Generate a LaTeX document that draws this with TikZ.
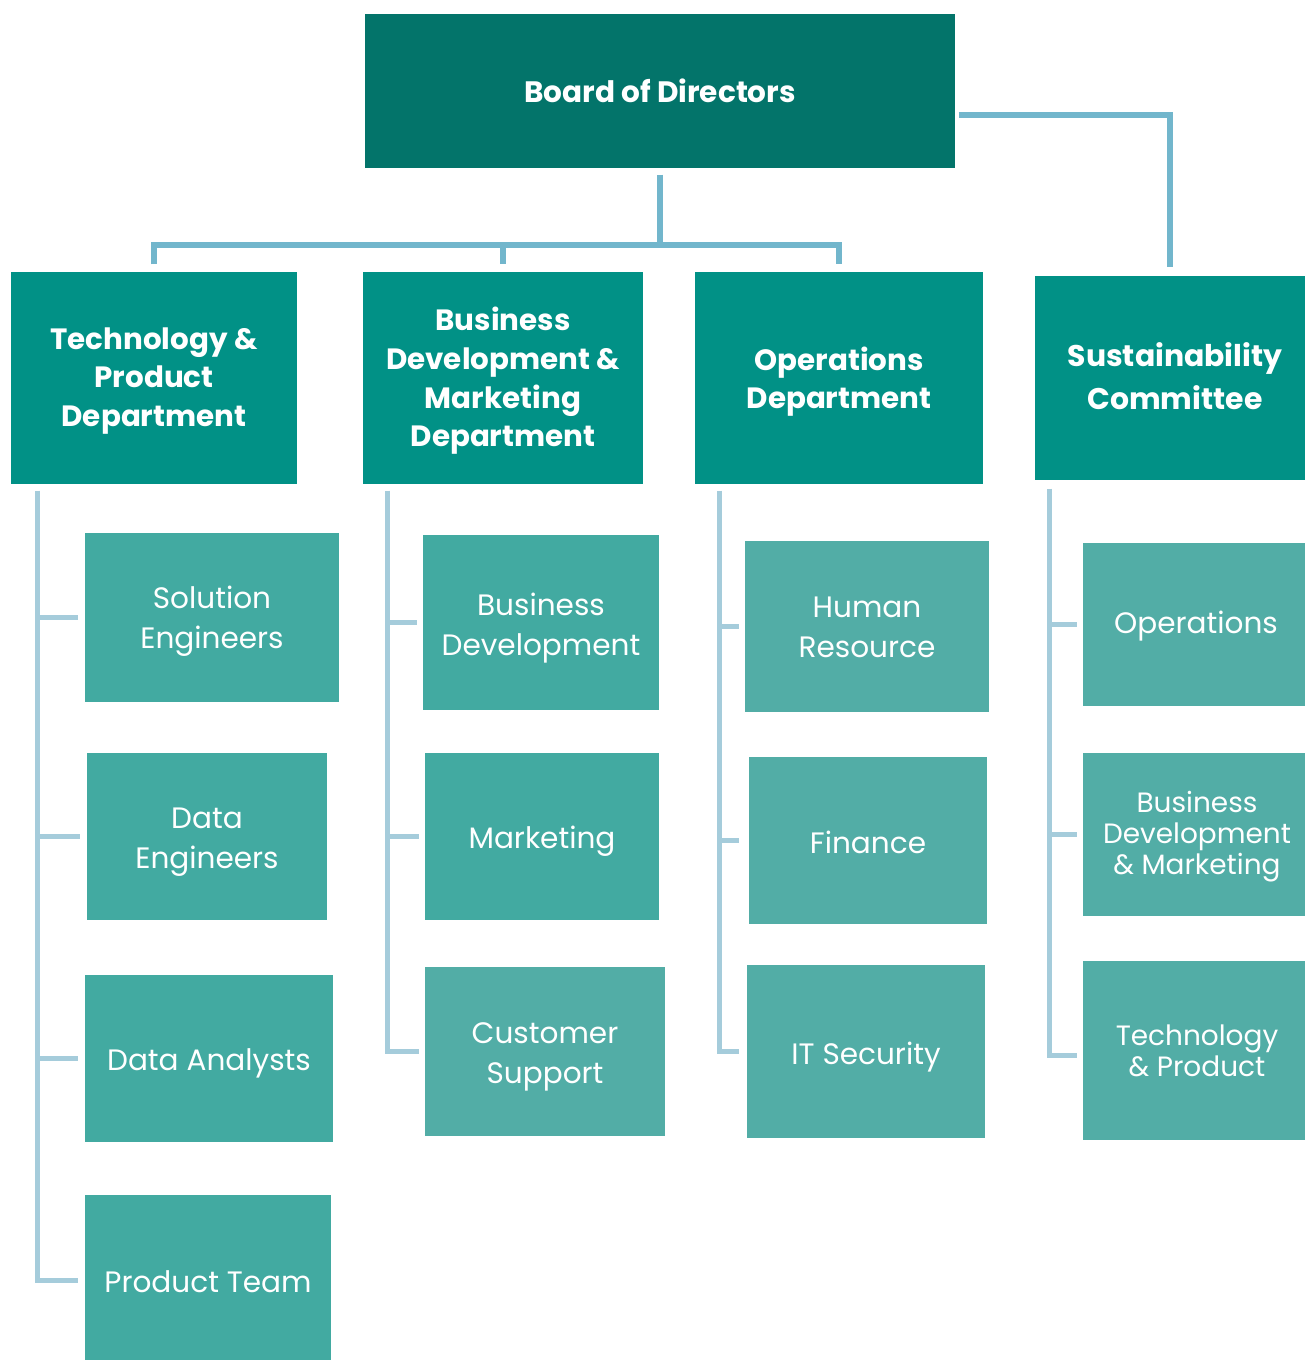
\documentclass[tikz,border=0pt]{standalone}
\usepackage{fontspec}
\setmainfont{Poppins}
\definecolor{boardc}{HTML}{03746A}
\definecolor{deptc}{HTML}{019186}
\definecolor{leafa}{HTML}{42AAA1}
\definecolor{leafb}{HTML}{52ADA6}
\definecolor{topln}{HTML}{72B6CC}
\definecolor{spln}{HTML}{A5CCDB}
% name, x1, y1, x2, y2, style, text shift (px, y down), text
\newcommand\obox[8]{\node[#6box, minimum width={(#4-#2)*0.01cm}, minimum height={(#5-#3)*0.01cm},
  label={[#6txt, shift={#7}]center:{#8}}] (#1) at ({(#2+#4)/2},{(#3+#5)/2}) {};}
\begin{document}
\begin{tikzpicture}[x=0.01cm,y=-0.01cm,
  basebox/.style={rectangle, inner sep=0pt},
  basetxt/.style={inner sep=0pt, align=center, text=white},
  boardbox/.style={basebox, fill=boardc},
  boardtxt/.style={basetxt, font=\bfseries\fontsize{8.4}{10}\selectfont},
  deptbox/.style={basebox, fill=deptc},
  depttxt/.style={basetxt, font=\bfseries\fontsize{8.35}{11}\selectfont},
  sustbox/.style={basebox, fill=deptc},
  susttxt/.style={basetxt, font=\bfseries\fontsize{8.5}{12.4}\selectfont},
  leafabox/.style={basebox, fill=leafa},
  leafatxt/.style={basetxt, font=\fontsize{8.4}{11.4}\selectfont},
  leafbbox/.style={basebox, fill=leafb},
  leafbtxt/.style={basetxt, font=\fontsize{8.4}{11.4}\selectfont},
  leafcbox/.style={basebox, fill=leafb},
  leafctxt/.style={basetxt, font=\fontsize{7.95}{8.8}\selectfont},
  topconn/.style={draw=topln, line width=1.5pt},
  spconn/.style={draw=spln, line width=1.5pt}]
\useasboundingbox (0,0) rectangle (1305,1361);
% top level
\obox{board}{365}{14}{955}{168}{board}{(0,0)}{Board of Directors}
\obox{tech}{11}{272}{297}{484}{dept}{(0,3)}{Technology \&\\Product\\Department}
\obox{bdm}{363}{272}{643}{484}{dept}{(0,3)}{Business\\Development \&\\Marketing\\Department}
\obox{ops}{695}{272}{983}{484}{dept}{(0,3.5)}{Operations\\Department}
\obox{sust}{1035}{276}{1305}{480}{sust}{(5,-2)}{Sustainability\\Committee}
% column 1
\obox{se}{85}{533}{339}{702}{leafa}{(0,4)}{Solution\\Engineers}
\obox{de}{87}{753}{327}{920}{leafa}{(0,6)}{Data\\Engineers}
\obox{da}{85}{975}{333}{1142}{leafa}{(0,5)}{Data Analysts}
\obox{pt}{85}{1195}{331}{1360}{leafa}{(0,4)}{Product Team}
% column 2
\obox{bd}{423}{535}{659}{710}{leafa}{(0,5.5)}{Business\\Development}
\obox{mk}{425}{753}{659}{920}{leafa}{(0,5)}{Marketing}
\obox{cs}{425}{967}{665}{1136}{leafb}{(0,5)}{Customer\\Support}
% column 3
\obox{hr}{745}{541}{989}{712}{leafb}{(0,0.5)}{Human\\Resource}
\obox{fi}{749}{757}{987}{924}{leafb}{(0,2)}{Finance}
\obox{it}{747}{965}{985}{1138}{leafb}{(0,6)}{IT Security}
% column 4
\obox{op}{1083}{543}{1305}{706}{leafb}{(2,2)}{Operations}
\obox{sbm}{1083}{753}{1305}{916}{leafc}{(3,2)}{Business\\Development\\\& Marketing}
\obox{stp}{1083}{961}{1305}{1140}{leafc}{(3,0)}{Technology\\\& Product}
% top connectors
\coordinate (bus) at (0,245);
\draw[topconn] ([shift={(0,6)}]board.south) -- (board.south |- bus);
\draw[topconn] ([shift={(0,-7)}]tech.north) -- (tech.north |- bus) -- (ops.north |- bus) -- ([shift={(0,-7)}]ops.north);
\draw[topconn] (bdm.north |- bus) -- ([shift={(0,-7)}]bdm.north);
\draw[topconn] ([shift={(3,24)}]board.east) -| ([shift={(0,-8)}]sust.north);
% spines
\coordinate (s1) at ([shift={(27,6)}]tech.south west);
\coordinate (s2) at ([shift={(25,6)}]bdm.south west);
\coordinate (s3) at ([shift={(25,6)}]ops.south west);
\coordinate (s4) at ([shift={(15,8)}]sust.south west);
\draw[spconn] (s1) |- ([shift={(-6,3)}]pt.west);
\draw[spconn] (s1 |- se.west) -- ([shift={(-6,0)}]se.west);
\draw[spconn] (s1 |- de.west) -- ([shift={(-6,0)}]de.west);
\draw[spconn] (s1 |- da.west) -- ([shift={(-6,0)}]da.west);
\draw[spconn] (s2) |- ([shift={(-5,0)}]cs.west);
\draw[spconn] (s2 |- bd.west) -- ([shift={(-5,0)}]bd.west);
\draw[spconn] (s2 |- mk.west) -- ([shift={(-5,0)}]mk.west);
\draw[spconn] (s3) |- ([shift={(-7,0)}]it.west);
\draw[spconn] (s3 |- hr.west) -- ([shift={(-5,0)}]hr.west);
\draw[spconn] (s3 |- fi.west) -- ([shift={(-9,0)}]fi.west);
\draw[spconn] (s4) |- ([shift={(-5,5)}]stp.west);
\draw[spconn] (s4 |- op.west) -- ([shift={(-5,0)}]op.west);
\draw[spconn] (s4 |- sbm.west) -- ([shift={(-5,0)}]sbm.west);
\end{tikzpicture}
\end{document}
